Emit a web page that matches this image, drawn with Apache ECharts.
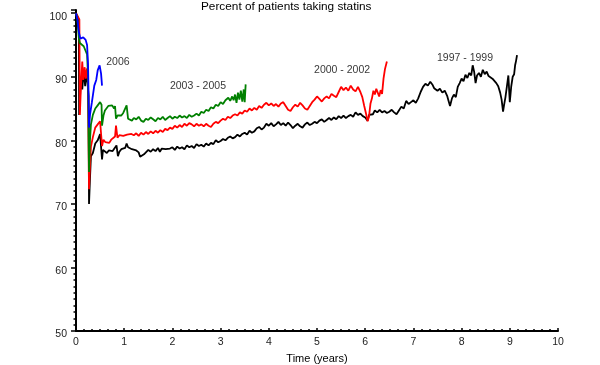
<!DOCTYPE html>
<html>
<head>
<meta charset="utf-8">
<script src="https://cdn.jsdelivr.net/npm/echarts@6/dist/echarts.min.js"></script>
<style>html,body{margin:0;padding:0;background:#fff;}#c{width:600px;height:365px;}</style>
</head>
<body>
<div id="c"></div>
<script>
// ---- data: [time (years), percent taking statins] ----
const s1997 = [[0,100],[0.03,99.5],[0.06,98],[0.065,84],[0.08,86],[0.1,90],[0.13,88],[0.16,91],[0.19,88.5],[0.21,90.5],[0.24,89],[0.26,87],[0.27,70],[0.29,74],[0.31,77.5],[0.35,78],[0.4,79.5],[0.45,80],[0.5,81],[0.52,80.7],
[0.54,77],[0.56,78.5],[0.6,78.2],[0.64,78],[0.68,78.4],[0.72,78.1],[0.76,78.3],[0.8,78.6],[0.84,79.2],[0.87,77.5],[0.9,78.2],[0.94,78.6],[0.98,78.3],[1.02,78.8],[1.05,79.5],[1.08,78.9],[1.12,79.1],[1.16,78.6],[1.2,78.9],[1.25,78.4],[1.3,78.1],[1.33,77.4],[1.37,77.6],[1.41,77.8],[1.45,78.1],[1.5,78.5],[1.55,78.2],[1.6,78.6],[1.65,78.3],[1.7,78.8],[1.74,78.2],[1.78,78.7],[1.82,78.4],[1.86,78.6],[1.9,78.3],[1.95,78.7],[2.0,78.9],[2.05,78.5],[2.1,79],[2.15,78.7],[2.2,78.9],[2.25,78.6],[2.3,79.2],[2.35,78.9],[2.4,79.1],[2.45,78.8],[2.5,79.4],[2.55,79.1],[2.6,79.3],[2.65,79.0],[2.7,79.5],[2.75,79.2],[2.8,79.6],[2.85,79.4],[2.9,80.0],[2.95,79.7],[3.0,79.9],[3.05,80.2],[3.1,80.0],[3.15,80.4],[3.2,80.6],[3.25,80.3],[3.3,80.5],[3.35,80.9],[3.4,80.6],[3.45,81.0],[3.5,81.2],[3.55,80.9],[3.6,81.5],[3.65,81.2],[3.7,81.4],[3.75,81.9],[3.8,82.1],[3.85,81.7],[3.9,82.0],[3.95,82.6],[4.0,82.3],[4.05,82.7],[4.1,82.2],[4.15,82.5],[4.2,82.9],[4.25,82.4],[4.3,82.7],[4.35,82.3],[4.4,82.8],[4.45,82.4],[4.5,81.9],[4.55,82.3],[4.6,82.6],[4.65,82.2],[4.7,82.0],[4.75,82.5],[4.8,82.8],[4.85,82.4],[4.9,82.6],[4.95,82.9],[5.0,82.7],[5.05,83.1],[5.1,83.3],[5.15,82.9],[5.2,83.2],[5.25,83.5],[5.3,83.2],[5.35,83.6],[5.4,83.3],[5.45,83.8],[5.5,83.5],[5.55,83.9],[5.6,83.5],[5.65,83.8],[5.7,84.0],[5.75,83.7],[5.8,84.4],[5.85,84.0],[5.9,84.2],[5.95,83.8],[6.0,83.6],[6.05,83.1],[6.08,84.0],[6.12,84.3],[6.16,84.1],[6.2,84.7],[6.25,84.4],[6.3,84.8],[6.35,84.4],[6.4,84.6],[6.45,84.3],[6.5,84.5],[6.55,84.8],[6.6,84.4],[6.65,84.1],[6.7,84.7],[6.75,85.3],[6.8,85.0],[6.85,86.2],[6.9,85.7],[6.95,86.0],[7.0,86.3],[7.05,85.9],[7.1,86.6],[7.15,87.6],[7.2,88.4],[7.25,88.9],[7.3,88.6],[7.35,89.2],[7.4,88.7],[7.43,88.2],[7.47,88.5],[7.5,87.8],[7.55,88.1],[7.6,87.5],[7.65,87.8],[7.7,87.0],[7.73,86.2],[7.76,85.4],[7.8,86.6],[7.84,87.2],[7.88,86.8],[7.92,88.4],[7.96,89.0],[8.0,89.7],[8.04,89.3],[8.08,90.3],[8.12,89.8],[8.16,90.6],[8.2,90.2],[8.23,91.8],[8.26,90.8],[8.29,89.0],[8.32,90.2],[8.36,90.6],[8.4,90.0],[8.44,91.1],[8.48,90.4],[8.52,90.8],[8.56,90.1],[8.6,90.4],[8.64,89.7],[8.68,89.4],[8.72,89.0],[8.76,88.5],[8.8,87.5],[8.83,86.4],[8.86,84.5],[8.88,85.5],[8.91,86.8],[8.94,88.5],[8.97,90.2],[9.0,86.0],[9.03,88.5],[9.06,90.0],[9.09,90.4],[9.11,91.8],[9.13,92.5],[9.15,93.4]];
const s2000 = [[0,100],[0.03,99.8],[0.07,99],[0.08,84],[0.1,88],[0.13,92.4],[0.15,89.5],[0.18,91.5],[0.2,89.7],[0.23,91.3],[0.25,89],[0.27,72.3],[0.29,76],[0.31,79],[0.35,80.5],[0.4,82],[0.45,82.5],[0.5,83],[0.52,82.8],
[0.54,79.1],[0.57,80.1],[0.61,79.7],[0.65,80.0],[0.69,79.6],[0.73,80.1],[0.77,80.4],[0.81,80.6],[0.83,82.3],[0.86,80.4],[0.9,80.8],[0.94,80.5],[0.98,80.7],[1.02,80.4],[1.06,80.9],[1.1,80.6],[1.15,81.0],[1.2,80.8],[1.25,81.1],[1.3,80.7],[1.35,81.2],[1.4,80.9],[1.45,81.3],[1.5,81.0],[1.55,81.4],[1.6,81.1],[1.65,81.5],[1.7,81.2],[1.75,81.6],[1.8,81.3],[1.85,81.8],[1.9,81.6],[1.95,82.0],[2.0,81.8],[2.05,82.3],[2.1,82.0],[2.15,82.4],[2.2,82.1],[2.25,82.6],[2.3,82.3],[2.35,82.7],[2.4,82.5],[2.45,82.2],[2.5,82.6],[2.55,82.3],[2.6,82.5],[2.65,82.2],[2.7,82.6],[2.75,82.3],[2.8,82.1],[2.85,82.6],[2.9,82.9],[2.95,82.7],[3.0,83.1],[3.05,83.4],[3.1,83.2],[3.15,83.7],[3.2,83.5],[3.25,83.9],[3.3,84.1],[3.35,83.9],[3.4,84.4],[3.45,84.2],[3.5,84.7],[3.55,84.5],[3.6,85.0],[3.65,84.7],[3.7,85.1],[3.75,84.8],[3.8,85.4],[3.85,85.1],[3.9,85.6],[3.95,85.9],[4.0,85.5],[4.05,85.8],[4.1,85.4],[4.15,85.7],[4.2,85.3],[4.25,85.8],[4.3,86.0],[4.35,85.4],[4.4,84.8],[4.45,84.6],[4.5,85.2],[4.55,85.6],[4.6,85.3],[4.65,85.9],[4.7,85.5],[4.75,85.0],[4.8,84.8],[4.85,85.4],[4.9,86.0],[4.95,86.4],[5.0,86.9],[5.05,86.5],[5.1,86.1],[5.15,86.6],[5.2,86.9],[5.25,86.6],[5.3,87.3],[5.35,87.0],[5.4,86.8],[5.45,87.6],[5.5,88.4],[5.55,87.9],[5.6,88.3],[5.65,87.8],[5.7,88.6],[5.75,88.0],[5.8,87.7],[5.85,88.4],[5.9,87.6],[5.94,86.8],[5.98,85.4],[6.02,84.1],[6.05,83.0],[6.08,83.8],[6.11,85.8],[6.14,86.6],[6.17,87.8],[6.2,87.2],[6.23,88.1],[6.26,87.5],[6.29,86.9],[6.32,87.9],[6.35,87.3],[6.38,89.7],[6.41,91.2],[6.45,92.4]];
const s2003 = [[0,100],[0.03,99],[0.06,96],[0.08,95.3],[0.12,95],[0.16,94.8],[0.2,94.5],[0.23,93.5],[0.25,90],[0.27,75],[0.29,80],[0.31,82.5],[0.35,84],[0.4,85],[0.45,85.5],[0.5,86],[0.53,85.6],
[0.54,82.3],[0.57,83.9],[0.6,84.7],[0.63,85.0],[0.67,85.4],[0.71,85.1],[0.75,85.5],[0.79,85.0],[0.81,85.4],[0.83,83.4],[0.86,83.9],[0.9,84.2],[0.94,83.9],[0.98,84.3],[1.02,84.6],[1.05,85.5],[1.08,83.4],[1.12,83.5],[1.16,83.1],[1.2,83.5],[1.25,83.3],[1.3,83.7],[1.35,83.1],[1.4,82.9],[1.45,83.4],[1.5,83.2],[1.55,83.6],[1.6,83.3],[1.65,83.0],[1.7,83.5],[1.75,83.3],[1.8,83.7],[1.85,83.2],[1.9,83.5],[1.95,83.8],[2.0,83.4],[2.05,83.7],[2.1,83.5],[2.15,83.9],[2.2,83.6],[2.25,83.8],[2.3,83.5],[2.35,84.0],[2.4,83.7],[2.45,83.9],[2.5,84.2],[2.55,83.9],[2.6,84.5],[2.65,84.3],[2.7,84.8],[2.75,84.6],[2.8,85.2],[2.85,85.0],[2.9,85.6],[2.95,85.4],[3.0,86.0],[3.05,85.7],[3.1,86.3],[3.13,86.0],[3.16,86.7],[3.2,86.2],[3.24,86.9],[3.27,86.3],[3.3,87.2],[3.33,85.9],[3.36,87.5],[3.39,86.4],[3.42,87.8],[3.45,86.1],[3.48,88.0],[3.5,86.0],[3.52,88.8]];
const s2006 = [[0,100],[0.03,99],[0.06,97],[0.09,96],[0.15,96.2],[0.2,95.8],[0.23,95],[0.25,92],[0.27,82],[0.29,84],[0.33,86],[0.38,88.6],[0.42,89.5],[0.45,91],[0.49,91.8],[0.52,90.5],[0.54,88.6]];
const seriesNames = ['1997 - 1999','2000 - 2002','2003 - 2005','2006'];
const seriesColors = ['#000000','#ff0000','#008000','#0000ff'];
const labelPos = [[8.07,92.9],[5.52,91.0],[2.53,88.5],[0.87,92.3]];
const xTicks = [0,1,2,3,4,5,6,7,8,9,10];
const yTicks = [50,60,70,80,90,100];

const chart = echarts.init(document.getElementById('c'), null, {renderer:'canvas'});
const font = 'Liberation Sans, Arial, sans-serif';
const lines = [s1997, s2000, s2003, s2006].map((d,i)=>({
  type:'line', name: seriesNames[i], data:d, showSymbol:false, symbol:'none',
  lineStyle:{color:seriesColors[i], width:1.8}, itemStyle:{color:seriesColors[i]},
  z: 2+i, animation:false
}));
const labels = {
  type:'scatter', symbolSize:0, z:10, animation:false, silent:true,
  data: labelPos.map((p,i)=>({value:p, name:seriesNames[i]})),
  label:{show:true, position:'inside', formatter:'{b}', color:'#000', fontSize:10.5, fontFamily:font}
};
chart.setOption({
  animation:false,
  backgroundColor:'#fff',
  title:{text:'Percent of patients taking statins', left:201, top:1, padding:0,
    textStyle:{fontSize:11.8, fontWeight:'normal', color:'#000', fontFamily:font}},
  grid:{left:76, right:42, top:10, bottom:34, containLabel:false, outerBoundsMode:'none'},
  xAxis:{type:'value', min:0, max:10, interval:1,
    name:'Time (years)', nameLocation:'middle', nameGap:22,
    nameTextStyle:{fontSize:11, color:'#000', fontFamily:font},
    axisLine:{lineStyle:{color:'#000', width:2}},
    axisTick:{inside:true, length:3, lineStyle:{color:'#000', width:1.5}},
    minorTick:{show:true, splitNumber:6, length:2, lineStyle:{color:'#000', width:1.5}},
    axisLabel:{fontSize:10.5, color:'#222', fontFamily:font, margin:6,
      formatter:v=> xTicks.includes(v)? String(v):''},
    splitLine:{show:false}},
  yAxis:{type:'value', min:50, max:100.5, interval:10,
    axisLine:{show:true, lineStyle:{color:'#000', width:2}},
    axisTick:{show:true, length:5, lineStyle:{color:'#000', width:1.5}},
    minorTick:{show:true, splitNumber:10, length:2.5, lineStyle:{color:'#000', width:1.5}},
    axisLabel:{fontSize:10.5, color:'#222', fontFamily:font, margin:9,
      formatter:v=> yTicks.includes(v)? '{a|' + v + '}' : '',
      rich:{a:{fontSize:10.5, color:'#222', fontFamily:font, padding:[7,0,0,0]}}},
    splitLine:{show:false}},
  series: lines.concat([labels])
});
</script>
</body>
</html>
